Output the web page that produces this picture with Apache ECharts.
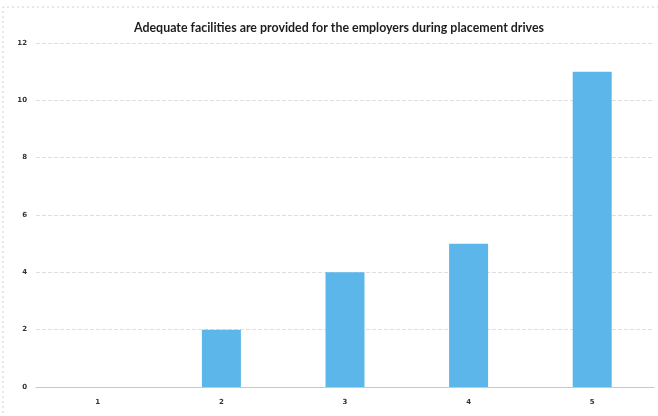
<!DOCTYPE html>
<html><head><meta charset="utf-8">
<script src="https://cdn.jsdelivr.net/npm/echarts@6/dist/echarts.min.js"></script>
<style>html,body{margin:0;padding:0;background:#fff}#c{width:658px;height:416px}</style>
</head><body><div id="c"></div>
<script>
const titleText = 'Adequate facilities are provided for the employers during placement drives';
const categories = ['1', '2', '3', '4', '5'];
const values = [0, 2, 4, 5, 11];
const yTicks = [0, 2, 4, 6, 8, 10, 12];

const chart = echarts.init(document.getElementById('c'));
chart.setOption({
  animation: false,
  backgroundColor: '#fff',
  title: {
    text: titleText, left: 129, top: 17,
    textStyle: {fontFamily: 'Lato', fontSize: 12.4, fontWeight: 'bold', color: '#1e1e1e'}
  },
  grid: {left: 36, right: 4, top: 43, bottom: 29, containLabel: false},
  xAxis: {
    type: 'category', data: categories,
    axisLine: {show: true, lineStyle: {color: '#c8c8c8', width: 1}},
    axisTick: {show: false},
    axisLabel: {margin: 12, fontFamily: 'DejaVu Sans', fontSize: 7, fontWeight: 'bold', color: '#333'}
  },
  yAxis: {
    type: 'value', min: 0, max: 12, interval: 2,
    axisLine: {show: false}, axisTick: {show: false},
    axisLabel: {margin: 9, fontFamily: 'DejaVu Sans', fontSize: 7, fontWeight: 'bold', color: '#333',
      formatter: v => yTicks.includes(v) ? String(v) : ''},
    splitLine: {lineStyle: {color: '#dedede', width: 1, type: 'dashed'}}
  },
  series: [{
    type: 'bar', data: values, barWidth: 39,
    itemStyle: {color: '#5cb6ea'}
  }],
  graphic: [{
    type: 'polyline', shape: {points: [[3, 413], [3, 7], [658, 7]]},
    style: {fill: 'none', stroke: '#cfcfcf', lineWidth: 1, lineDash: [2, 3]}, silent: true
  }]
});
</script></body></html>
